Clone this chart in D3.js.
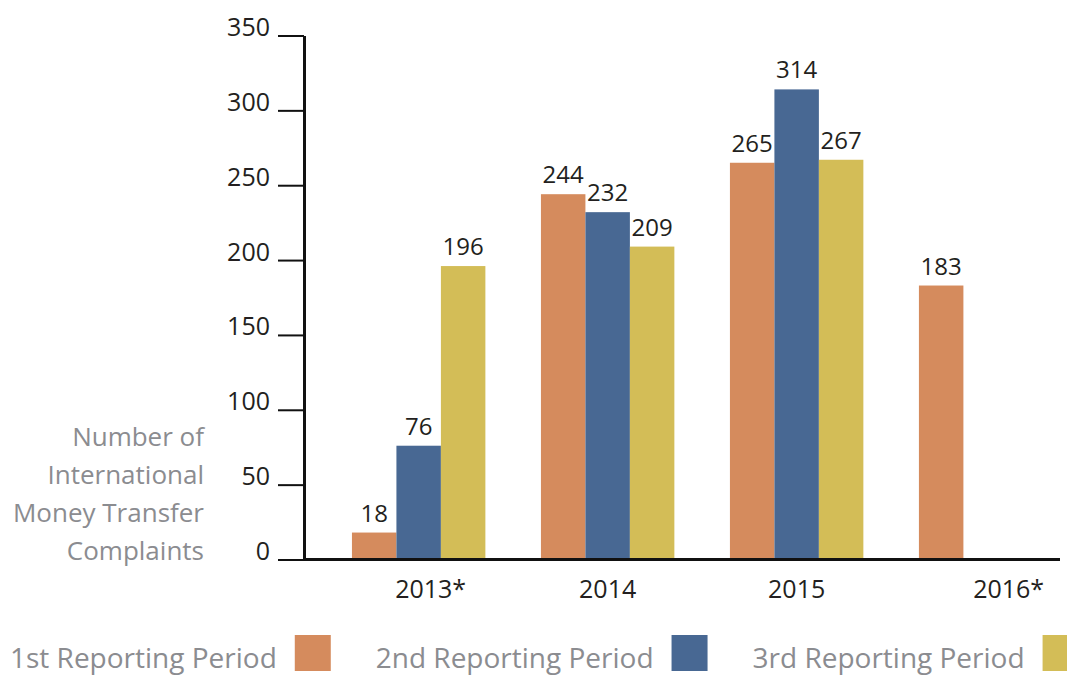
<!DOCTYPE html>
<html>
<head>
<meta charset="utf-8">
<script src="https://cdn.jsdelivr.net/npm/d3@7"></script>
<style>
  body { margin: 0; background: #fff; }
  svg { display: block; font-family: "Open Sans", sans-serif; }
</style>
</head>
<body>
<svg id="chart" width="1067" height="675"></svg>
<script>
// data
var years = ["2013*", "2014", "2015", "2016*"];
var periods = ["1st Reporting Period", "2nd Reporting Period", "3rd Reporting Period"];
var period1 = [18, 244, 265, 183];
var period2 = [76, 232, 314, null];
var period3 = [196, 209, 267, null];
var yTicks = [0, 50, 100, 150, 200, 250, 300, 350];
var titleLines = ["Number of", "International", "Money Transfer", "Complaints"];

var colors = ["#d58b5d", "#486893", "#d3bd57"];
var series = [period1, period2, period3];

var svg = d3.select("#chart");

var y = d3.scaleLinear().domain([0, 350]).range([559.5, 35.5]);

var x0 = d3.scaleBand()
    .domain(years)
    .range([323.6, 1080.7])
    .paddingInner(0.294)
    .paddingOuter(0.15);

var x1 = d3.scaleBand()
    .domain(d3.range(periods.length))
    .range([0, x0.bandwidth()])
    .padding(0);

// bars
var groups = svg.selectAll(".year")
    .data(years)
    .enter()
    .append("g")
    .attr("class", "year")
    .attr("transform", function(d) { return "translate(" + x0(d) + ",0)"; });

groups.each(function(yr, i) {
    var g = d3.select(this);
    var vals = series.map(function(s, k) { return {k: k, v: s[i]}; })
        .filter(function(d) { return d.v != null; });

    g.selectAll("rect")
        .data(vals)
        .enter()
        .append("rect")
        .attr("x", function(d) { return x1(d.k); })
        .attr("width", x1.bandwidth())
        .attr("y", function(d) { return y(d.v); })
        .attr("height", function(d) { return y(0) - y(d.v); })
        .attr("fill", function(d) { return colors[d.k]; });

    g.selectAll("text")
        .data(vals)
        .enter()
        .append("text")
        .attr("x", function(d) { return x1(d.k) + x1.bandwidth() / 2; })
        .attr("y", function(d) { return y(d.v) - 11; })
        .attr("text-anchor", "middle")
        .attr("font-size", 24)
        .attr("fill", "#231f20")
        .text(function(d) { return d.v; });
});

// y axis
var yAxis = svg.append("g")
    .attr("transform", "translate(304,0)")
    .call(d3.axisLeft(y).tickValues(yTicks).tickSize(26).tickSizeOuter(0).tickPadding(8));

yAxis.select(".domain").attr("stroke", "#111").attr("stroke-width", 3);
yAxis.selectAll(".tick line").attr("stroke", "#111").attr("stroke-width", 2);
yAxis.selectAll(".tick text")
    .attr("dy", 0)
    .attr("font-size", 25)
    .attr("font-family", "Open Sans, sans-serif")
    .attr("fill", "#231f20");

// baseline
svg.append("line")
    .attr("x1", 303).attr("x2", 1060)
    .attr("y1", y(0)).attr("y2", y(0))
    .attr("stroke", "#111")
    .attr("stroke-width", 3);

// x labels
svg.selectAll(".xlab")
    .data(years)
    .enter()
    .append("text")
    .attr("class", "xlab")
    .attr("x", function(d) {
        var c = x0(d) + x0.bandwidth() / 2;
        if (d === "2016*") return c + 23;
        if (d.indexOf("*") > 0) return c + 12;
        return c;
    })
    .attr("y", 598)
    .attr("text-anchor", "middle")
    .attr("font-size", 25)
    .attr("fill", "#231f20")
    .text(function(d) { return d; });

// axis title
svg.append("text")
    .attr("text-anchor", "end")
    .attr("font-size", 26)
    .attr("fill", "#8b8c90")
    .selectAll("tspan")
    .data(titleLines)
    .enter()
    .append("tspan")
    .attr("x", 204)
    .attr("y", function(d, i) { return 446 + i * 38; })
    .text(function(d) { return d; });

// legend
var lx = 10;
periods.forEach(function(p, i) {
    var t = svg.append("text")
        .attr("x", lx)
        .attr("y", 668)
        .attr("font-size", 28)
        .attr("fill", "#8b8c90")
        .text(p);
    var w = t.node().getComputedTextLength();
    svg.append("rect")
        .attr("x", lx + w + 18)
        .attr("y", 635)
        .attr("width", 36)
        .attr("height", 36)
        .attr("fill", colors[i]);
    lx = lx + w + 18 + 36 + 45;
});
</script>
</body>
</html>
